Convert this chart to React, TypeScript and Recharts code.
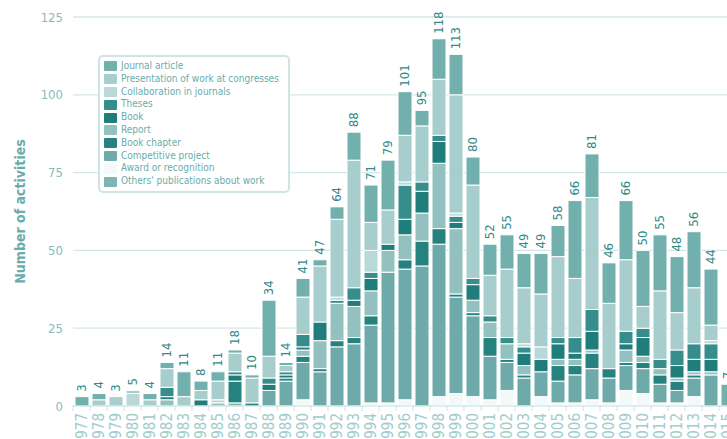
import React from "react";
import { BarChart, Bar, XAxis, YAxis, CartesianGrid, Legend, LabelList } from "recharts";

const YEARS = [
  1977, 1978, 1979, 1980, 1981, 1982, 1983, 1984, 1985, 1986, 1987, 1988, 1989,
  1990, 1991, 1992, 1993, 1994, 1995, 1996, 1997, 1998, 1999, 2000, 2001, 2002,
  2003, 2004, 2005, 2006, 2007, 2008, 2009, 2010, 2011, 2012, 2013, 2014, 2015,
];

const JOURNAL_ARTICLE = [3, 2, 0, 0, 2, 2, 8, 3, 3, 1, 1, 18, 1, 6, 2, 4, 9, 12, 16, 14, 5, 13, 13, 9, 10, 11, 11, 13, 10, 25, 14, 13, 19, 18, 18, 18, 18, 18, 7];
const PRESENTATIONS = [0, 2, 3, 1, 2, 6, 3, 3, 6, 6, 8, 7, 2, 12, 18, 25, 41, 9, 11, 15, 18, 18, 38, 30, 13, 22, 18, 17, 26, 19, 36, 21, 23, 7, 22, 12, 18, 5, 0];
const COLLABORATION = [0, 0, 0, 4, 0, 0, 0, 0, 1, 0, 0, 0, 0, 0, 0, 1, 0, 7, 0, 1, 0, 0, 1, 0, 0, 0, 1, 4, 0, 0, 0, 0, 0, 0, 0, 0, 0, 1, 0];
const THESES = [0, 0, 0, 0, 0, 3, 0, 0, 0, 1, 0, 2, 1, 4, 0, 1, 4, 2, 0, 11, 3, 2, 2, 2, 2, 2, 2, 0, 2, 5, 7, 0, 4, 3, 3, 5, 5, 5, 0];
const BOOK = [0, 0, 0, 0, 0, 1, 0, 2, 0, 2, 0, 2, 1, 1, 6, 0, 2, 4, 2, 5, 7, 7, 2, 5, 0, 0, 4, 4, 5, 2, 6, 0, 2, 6, 0, 4, 4, 4, 0];
const REPORT = [0, 0, 0, 0, 0, 2, 0, 0, 1, 0, 0, 0, 0, 2, 9, 12, 10, 8, 7, 8, 9, 21, 21, 4, 5, 5, 3, 0, 2, 2, 1, 0, 4, 2, 2, 1, 1, 1, 0];
const BOOK_CHAPTER = [0, 0, 0, 0, 0, 0, 0, 0, 0, 7, 1, 0, 1, 2, 1, 2, 2, 3, 0, 3, 8, 5, 1, 1, 6, 1, 1, 0, 5, 3, 5, 3, 1, 2, 3, 3, 1, 0, 0];
const COMPETITIVE_PROJECT = [0, 0, 0, 0, 0, 0, 0, 0, 0, 0, 0, 5, 8, 12, 11, 19, 20, 25, 42, 42, 45, 49, 31, 26, 14, 9, 9, 8, 7, 9, 10, 8, 8, 8, 6, 4, 6, 10, 0];
const AWARD = [0, 0, 0, 0, 0, 0, 0, 0, 0, 0, 0, 0, 0, 2, 0, 0, 0, 1, 1, 2, 0, 3, 4, 3, 2, 5, 0, 3, 1, 1, 2, 1, 5, 4, 1, 1, 3, 0, 0];
const OTHERS_PUBLICATIONS = [0, 0, 0, 0, 0, 0, 0, 0, 0, 1, 0, 0, 0, 0, 0, 0, 0, 0, 0, 0, 0, 0, 0, 0, 0, 0, 0, 0, 0, 0, 0, 0, 0, 0, 0, 0, 0, 0, 0];

// legend order (top of the stack first)
const SERIES = [
  { key: "journal", name: "Journal article", color: "#72b0ae", values: JOURNAL_ARTICLE },
  { key: "presentation", name: "Presentation of work at congresses", color: "#a7cdcd", values: PRESENTATIONS },
  { key: "collaboration", name: "Collaboration in journals", color: "#b9d9d8", values: COLLABORATION },
  { key: "theses", name: "Theses", color: "#368d8b", values: THESES },
  { key: "book", name: "Book", color: "#1f7d7b", values: BOOK },
  { key: "report", name: "Report", color: "#93c1c0", values: REPORT },
  { key: "chapter", name: "Book chapter", color: "#25827f", values: BOOK_CHAPTER },
  { key: "project", name: "Competitive project", color: "#6daaa9", values: COMPETITIVE_PROJECT },
  { key: "award", name: "Award or recognition", color: "#f3f8f8", values: AWARD },
  { key: "others", name: "Others' publications about work", color: "#7db5b4", values: OTHERS_PUBLICATIONS },
];

const Y_TICKS = [0, 25, 50, 75, 100, 125];

// each row also carries the total under "label_<key>" of the series that sits on top
const chartData = YEARS.map((year, i) => {
  const row: Record<string, number | string | null> = { year: String(year) };
  let total = 0;
  let topKey = "";
  SERIES.forEach((s) => {
    row[s.key] = s.values[i];
    total += s.values[i];
    if (!topKey && s.values[i] > 0) topKey = s.key;
  });
  SERIES.forEach((s) => {
    row["label_" + s.key] = s.key === topKey ? total : null;
  });
  return row;
});

const WIDTH = 750;
const HEIGHT = 480;
const MARGIN = { top: 17, right: 14, bottom: 0, left: 0 };
const Y_AXIS_WIDTH = 73;
const BAND = (WIDTH - MARGIN.left - MARGIN.right - Y_AXIS_WIDTH) / YEARS.length;

const TotalLabel = (props: any) => {
  const { x, y, width, value } = props;
  if (value === null || value === undefined || value === "") return null;
  const cx = Number(x) + Number(width) / 2;
  const ty = Number(y) - 5;
  return (
    <text
      x={cx}
      y={ty}
      transform={`rotate(-90 ${cx} ${ty})`}
      textAnchor="start"
      dominantBaseline="central"
      fill="#2f8b89"
      fontSize={13}
    >
      {value}
    </text>
  );
};

const YearTick = (props: any) => {
  const { x, y, payload } = props;
  const ty = y + 7;
  return (
    <g>
      <line x1={x - BAND / 2} x2={x - BAND / 2} y1={y} y2={y + 5} stroke="#cfe3e3" />
      <text
        x={x}
        y={ty}
        transform={`rotate(-90 ${x} ${ty})`}
        textAnchor="end"
        dominantBaseline="central"
        fill="#a3cccc"
        fontSize={15}
      >
        {payload.value}
      </text>
    </g>
  );
};

const YTitle = (props: any) => {
  const vb = props.viewBox || { x: 0, y: 0, height: 0 };
  const cx = vb.x + 19.5;
  const cy = vb.y + vb.height / 2;
  return (
    <text
      x={cx}
      y={cy}
      transform={`rotate(-90 ${cx} ${cy})`}
      textAnchor="middle"
      dominantBaseline="central"
      fill="#6aacab"
      fontSize={14}
      fontWeight="bold"
    >
      Number of activities
    </text>
  );
};

const LegendBox = () => (
  <div
    style={{
      border: "2px solid #cfe4e4",
      borderRadius: 5,
      background: "#fff",
      padding: "3px 9px 3px 4px",
      fontSize: 10,
      color: "#6aabab",
      lineHeight: "12.8px",
      whiteSpace: "nowrap",
    }}
  >
    {SERIES.map((s) => (
      <div key={s.key} style={{ display: "flex", alignItems: "center", height: 12.8 }}>
        <span
          style={{
            display: "inline-block",
            width: 13,
            height: 10,
            borderRadius: 1,
            background: s.color,
            marginRight: 4,
          }}
        />
        <span>{s.name}</span>
      </div>
    ))}
  </div>
);

export default function App() {
  const stackOrder = [...SERIES].reverse();
  return (
    <div
      style={{
        position: "fixed",
        left: 0,
        top: 0,
        width: "100vw",
        height: "100vh",
        overflow: "hidden",
        background: "#fff",
        fontFamily: "'DejaVu Sans Condensed', 'DejaVu Sans', sans-serif",
      }}
    >
      <BarChart width={WIDTH} height={HEIGHT} data={chartData} margin={MARGIN}>
        <CartesianGrid vertical={false} stroke="#d4e7e7" strokeWidth={1.3} />
        <XAxis
          dataKey="year"
          interval={0}
          height={HEIGHT - 406}
          tickLine={false}
          tickSize={0}
          tickMargin={0}
          axisLine={{ stroke: "#cfe3e3" }}
          tick={<YearTick />}
        />
        <YAxis
          width={Y_AXIS_WIDTH}
          domain={[0, 125]}
          ticks={Y_TICKS}
          axisLine={false}
          tickLine={false}
          tickMargin={4}
          tick={{ fill: "#85bcbc", fontSize: 13 }}
          label={{ content: <YTitle /> }}
        />
        <Legend
          layout="vertical"
          align="center"
          verticalAlign="middle"
          content={() => <LegendBox />}
          wrapperStyle={{ position: "absolute", left: 98, top: 55, width: "auto", height: "auto" }}
        />
        {stackOrder.map((s) => (
          <Bar
            key={s.key}
            dataKey={s.key}
            name={s.name}
            stackId="a"
            fill={s.color}
            stroke="#fff"
            strokeWidth={1}
            barSize={14}
            isAnimationActive={false}
          >
            <LabelList dataKey={"label_" + s.key} content={<TotalLabel />} />
          </Bar>
        ))}
      </BarChart>
    </div>
  );
}
